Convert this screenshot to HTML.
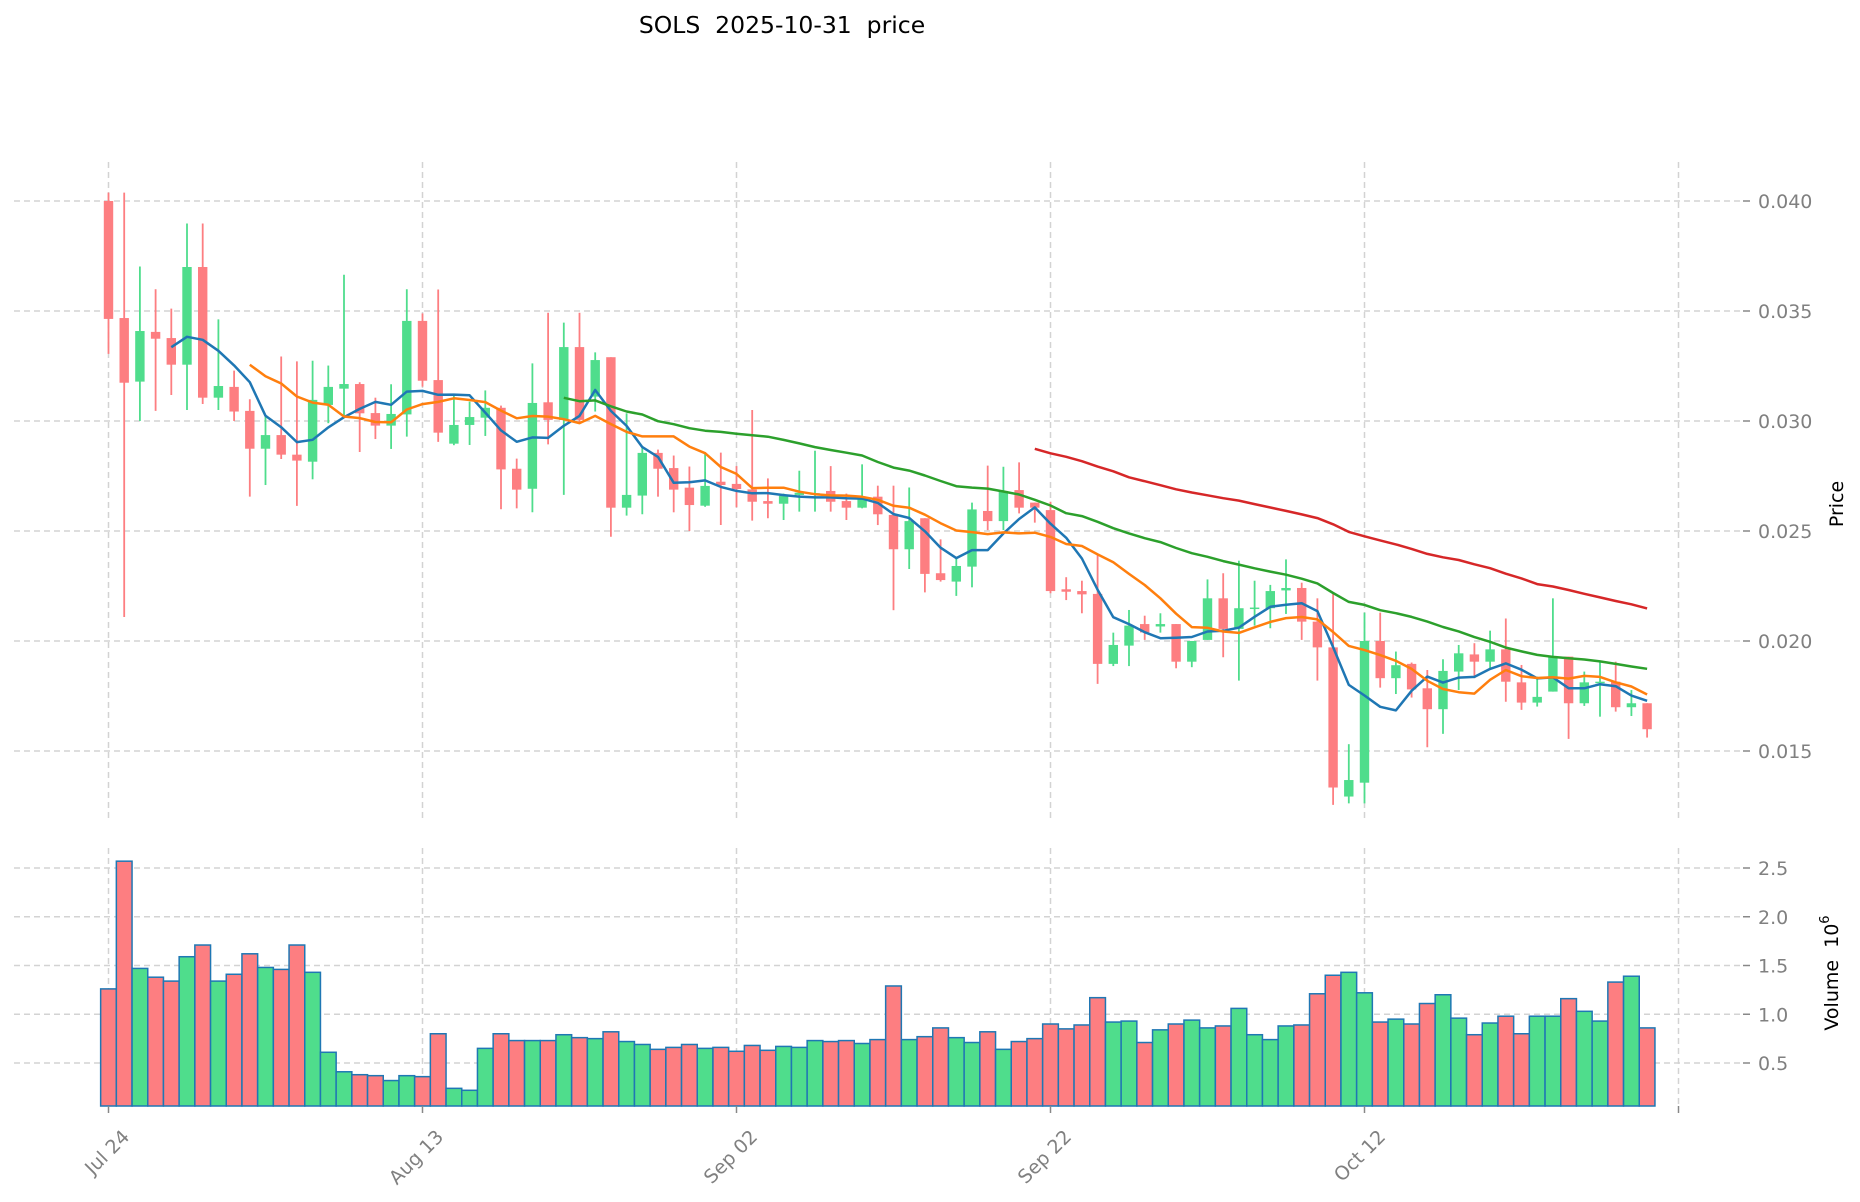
<!DOCTYPE html>
<html><head><meta charset="utf-8"><style>
html,body{margin:0;padding:0;background:#fff;}
svg{display:block;font-family:"DejaVu Sans","Liberation Sans",sans-serif;}
</style></head><body>
<svg id="chart" width="1860" height="1202" viewBox="0 0 1860 1202" xmlns="http://www.w3.org/2000/svg">
<text x="782" y="33" font-size="23.5" text-anchor="middle" fill="#000" style="white-space:pre" xml:space="preserve">SOLS  2025-10-31  price</text>
<g id="grid"></g>
<g id="volume"></g>
<g id="candles"></g>
<g id="mas"></g>
<g id="axes"></g>
<text transform="translate(1843,504) rotate(-90)" font-size="19" text-anchor="middle" fill="#000">Price</text>
<text transform="translate(1838,973) rotate(-90)" font-size="19" text-anchor="middle" fill="#000" style="white-space:pre" xml:space="preserve">Volume  10<tspan dy="-9" font-size="13">6</tspan></text>
</svg>
<script>
const dateLabels = ["Jul 24","Aug 13","Sep 02","Sep 22","Oct 12"];
const dateTickIdx = [0,20,40,60,80,100];
const priceTicks = [0.015,0.020,0.025,0.030,0.035,0.040];
const volTicks = [0.5,1.0,1.5,2.0,2.5];
const openV = [0.0400,0.03468,0.03179,0.03405,0.03377,0.03256,0.0370,0.03106,0.03155,0.03046,0.02874,0.02936,0.02847,0.02815,0.03073,0.03147,0.03168,0.03036,0.02979,0.0303,0.03455,0.03186,0.02897,0.02982,0.03015,0.0306,0.02783,0.02692,0.03085,0.03005,0.03336,0.03111,0.0329,0.02606,0.02661,0.02855,0.02786,0.02697,0.02615,0.02724,0.02714,0.02689,0.02636,0.02624,0.02664,0.0267,0.02682,0.02636,0.02606,0.02656,0.02573,0.02417,0.02558,0.02308,0.0227,0.02338,0.02591,0.02545,0.02686,0.02629,0.02595,0.02235,0.02227,0.02214,0.01896,0.01979,0.02077,0.02066,0.02077,0.01906,0.02005,0.02194,0.02055,0.02146,0.02149,0.0223,0.02241,0.02088,0.01971,0.01293,0.01356,0.0200,0.01831,0.01896,0.01785,0.0169,0.01861,0.01939,0.01906,0.01962,0.01812,0.0172,0.0177,0.01929,0.01717,0.01809,0.01815,0.01699,0.01717];
const highV = [0.04038,0.04038,0.03702,0.03599,0.03511,0.03898,0.03898,0.03462,0.03229,0.03099,0.0302,0.03293,0.03271,0.03274,0.03252,0.03665,0.03176,0.03106,0.03167,0.03599,0.03489,0.03598,0.0312,0.03088,0.03139,0.0307,0.02829,0.03262,0.03492,0.03447,0.03492,0.03312,0.0329,0.03035,0.02883,0.0287,0.02843,0.02793,0.02858,0.02856,0.02795,0.0305,0.02739,0.0267,0.02774,0.02865,0.02795,0.0267,0.02803,0.02706,0.02706,0.02698,0.02558,0.02462,0.02383,0.02629,0.02797,0.02792,0.02812,0.02629,0.02633,0.0229,0.02274,0.02391,0.02038,0.02141,0.02115,0.02126,0.02077,0.0200,0.0228,0.02308,0.02365,0.02274,0.02255,0.02371,0.02265,0.02194,0.02217,0.01531,0.02129,0.02129,0.01952,0.01902,0.01868,0.01917,0.01982,0.0199,0.02047,0.02102,0.01891,0.01838,0.02194,0.01929,0.01861,0.01906,0.01906,0.01777,0.01717];
const lowV = [0.03305,0.02109,0.0300,0.03046,0.03118,0.0305,0.03077,0.0305,0.0300,0.02656,0.02709,0.02827,0.02614,0.02735,0.0299,0.0302,0.02859,0.02918,0.02873,0.02929,0.03156,0.02905,0.0289,0.02891,0.02932,0.02599,0.02603,0.02585,0.02894,0.02664,0.0299,0.03043,0.02474,0.0257,0.02576,0.02656,0.02585,0.025,0.0261,0.02527,0.02608,0.02547,0.02558,0.0255,0.02588,0.02588,0.02588,0.0255,0.02603,0.02527,0.0214,0.02327,0.02221,0.0227,0.02205,0.02244,0.02504,0.02504,0.0258,0.02538,0.02217,0.02186,0.02126,0.01805,0.01886,0.01886,0.02005,0.02038,0.01876,0.01881,0.02005,0.01926,0.0182,0.0207,0.02058,0.02123,0.02005,0.0182,0.01255,0.01262,0.01262,0.01788,0.01759,0.01743,0.01517,0.01578,0.01777,0.01831,0.01876,0.01724,0.01687,0.01702,0.0177,0.01555,0.01705,0.01656,0.01679,0.01659,0.01561];
const closeV = [0.03464,0.03174,0.03409,0.03374,0.03256,0.0370,0.03106,0.03159,0.03043,0.02874,0.02936,0.02847,0.0282,0.03096,0.03155,0.03168,0.03035,0.02979,0.03032,0.03455,0.03183,0.02947,0.02982,0.03018,0.0306,0.0278,0.02688,0.03082,0.03005,0.03336,0.03005,0.03277,0.02606,0.02664,0.02855,0.02783,0.02688,0.02618,0.02705,0.02709,0.02691,0.02633,0.02624,0.0266,0.02674,0.02672,0.02633,0.02606,0.02651,0.02576,0.02417,0.02545,0.02305,0.02277,0.02341,0.02598,0.02545,0.02682,0.02606,0.02606,0.02227,0.02224,0.02212,0.01896,0.01982,0.0207,0.02039,0.02077,0.01906,0.0200,0.02194,0.02055,0.02149,0.02152,0.02227,0.02241,0.02088,0.01971,0.01334,0.01368,0.0200,0.01831,0.0189,0.0178,0.0169,0.01864,0.01944,0.01906,0.01962,0.01815,0.0172,0.01746,0.01929,0.01717,0.01812,0.01815,0.01699,0.01717,0.01599];
const volumeV = [1.26,2.57,1.47,1.38,1.34,1.59,1.71,1.34,1.41,1.62,1.48,1.46,1.71,1.43,0.61,0.41,0.38,0.37,0.32,0.37,0.36,0.80,0.24,0.22,0.65,0.80,0.73,0.73,0.73,0.79,0.76,0.75,0.82,0.72,0.69,0.64,0.66,0.69,0.65,0.66,0.62,0.68,0.63,0.67,0.66,0.73,0.72,0.73,0.70,0.74,1.29,0.74,0.77,0.86,0.76,0.71,0.82,0.64,0.72,0.75,0.90,0.85,0.89,1.17,0.92,0.93,0.71,0.84,0.90,0.94,0.86,0.88,1.06,0.79,0.74,0.88,0.89,1.21,1.40,1.43,1.22,0.92,0.95,0.90,1.11,1.20,0.96,0.79,0.91,0.98,0.80,0.98,0.98,1.16,1.03,0.93,1.33,1.39,0.86];
const maWindows = [5,10,30,60];
const maColors = ["#1f77b4","#ff7f0e","#2ca02c","#d62728"];

const NS="http://www.w3.org/2000/svg";
const X0=108.5, DX=15.7, LEFT=14, RIGHT=1743;
const PTOP=162, PBOT=818, VTOP=848, VBOT=1106;
const xs = i => X0 + DX*i;
const yp = p => 201 + (0.040 - p)*22000;
const yv = v => 1063 - (v - 0.5)*97.5;
const RED="#fd7e81", GREEN="#4fdd8c";
function mk(tag, attrs, parent){const e=document.createElementNS(NS,tag);for(const k in attrs)e.setAttribute(k,attrs[k]);parent.appendChild(e);return e;}
const grid=document.getElementById('grid'), axes=document.getElementById('axes');
const vol=document.getElementById('volume'), cg=document.getElementById('candles'), mg=document.getElementById('mas');
const gs={stroke:"#d3d3d3","stroke-width":1.5,"stroke-dasharray":"6,4",fill:"none"};

priceTicks.forEach(p=>{
  const g=mk('line',Object.assign({x1:LEFT,x2:RIGHT,y1:yp(p),y2:yp(p)},gs),grid);
  
  
  const t=mk('line',{x1:RIGHT,x2:RIGHT+7,y1:yp(p),y2:yp(p),stroke:"#888","stroke-width":1.5},axes);
  
  
  const l=mk('text',{x:RIGHT+15,y:yp(p)+7,"font-size":19,fill:"#808080"},axes);
  l.textContent=p.toFixed(3);
  
  
});
volTicks.forEach(v=>{
  const g=mk('line',Object.assign({x1:LEFT,x2:RIGHT,y1:yv(v),y2:yv(v)},gs),grid);
  
  
  const t=mk('line',{x1:RIGHT,x2:RIGHT+7,y1:yv(v),y2:yv(v),stroke:"#888","stroke-width":1.5},axes);
  
  
  const l=mk('text',{x:RIGHT+15,y:yv(v)+7,"font-size":19,fill:"#808080"},axes);
  l.textContent=v.toFixed(1);
  
  
});
dateTickIdx.forEach((d,k)=>{
  const x=xs(d);
  const a=mk('line',Object.assign({x1:x,x2:x,y1:PTOP,y2:PBOT},gs),grid);
  
  
  const b=mk('line',Object.assign({x1:x,x2:x,y1:VTOP,y2:VBOT},gs),grid);
  
  
  const t=mk('line',{x1:x,x2:x,y1:VBOT,y2:VBOT+7,stroke:"#888","stroke-width":1.5},axes);
  
  
  if(dateLabels[k]){
    const l=mk('text',{transform:`translate(${x+22},1138) rotate(-45)`,"font-size":19,fill:"#808080","text-anchor":"end"},axes);
    l.textContent=dateLabels[k];
    
    
  }
});

volumeV.forEach((v,i)=>{
  const up=closeV[i]>=openV[i];
  const top=Math.max(yv(v),VTOP);
  const r=mk('rect',{x:xs(i)-DX/2,y:top,width:DX,height:VBOT-top,fill:up?GREEN:RED,stroke:"#1f77b4","stroke-width":1.5},vol);
  
  
});

openV.forEach((o,i)=>{
  const c=closeV[i], up=c>=o, col=up?GREEN:RED, x=xs(i);
  const w=mk('line',{x1:x,x2:x,y1:yp(highV[i]),y2:yp(lowV[i]),stroke:col,"stroke-width":1.8},cg);
  
  
  const t=yp(Math.max(o,c)), b=yp(Math.min(o,c));
  const r=mk('rect',{x:x-4.7,y:t,width:9.4,height:Math.max(b-t,1.5),fill:col},cg);
  
  
});

maWindows.forEach((n,k)=>{
  const pts=[];
  for(let i=n-1;i<closeV.length;i++){
    let s=0;for(let j=i-n+1;j<=i;j++)s+=closeV[j];
    pts.push(xs(i).toFixed(1)+','+yp(s/n).toFixed(1));
  }
  const p=mk('polyline',{points:pts.join(' '),fill:"none",stroke:maColors[k],"stroke-width":2.5,"stroke-linejoin":"round"},mg);
  
  
});
</script>
</body></html>
